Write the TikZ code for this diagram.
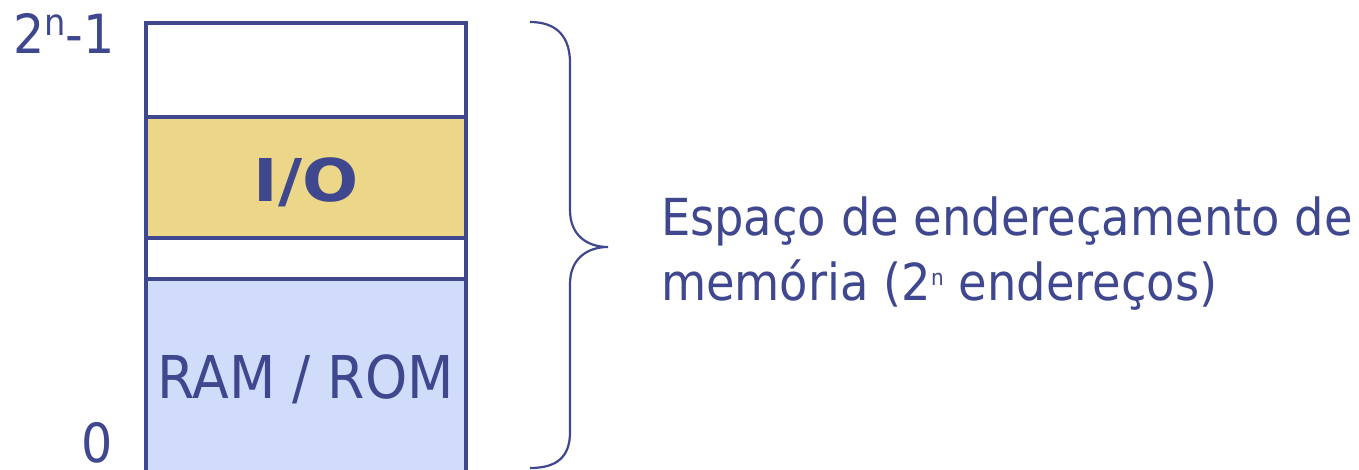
\documentclass[tikz,border=0pt]{standalone}
\usepackage{fontspec}
\setmainfont[FakeStretch=0.91]{DejaVu Sans}
\newfontfamily\iofont[FakeStretch=1.12]{DejaVu Sans}
\definecolor{ink}{HTML}{3F478E}
\definecolor{iofill}{HTML}{EBD787}
\definecolor{ramfill}{HTML}{D0DCFA}
\tikzset{
  seg/.style={draw=ink, line width=4pt, inner sep=0pt, outer sep=0pt,
              anchor=north west, minimum width=320.5pt},
  lbl/.style={text=ink, inner sep=0pt, outer sep=0pt},
  brace/.style={draw=ink, line width=2.2pt}
}
\begin{document}
\begin{tikzpicture}[x=1pt,y=-1pt]
\useasboundingbox (0,0) rectangle (1359,469);
\fill[white] (0,0) rectangle (1359,469);
% memory column
\node[seg, fill=white,   minimum height=94pt]  (top) at (145.5,23) {};
\node[seg, fill=iofill,  minimum height=120.5pt] (io)  at (145.5,117) {};
\node[seg, fill=white,   minimum height=41.3pt]  (gap) at (145.5,237.5) {};
\node[seg, fill=ramfill, minimum height=200pt] (ram) at (145.5,278.8) {};
% texts in column
\node[lbl, anchor=base] (iotext) at (306,201) {\iofont\fontsize{59}{59}\selectfont\bfseries I/O};
\node[lbl, anchor=base] (ramtext) at (305.5,398) {\fontsize{59}{59}\selectfont RAM / ROM};
% address labels
\node[lbl, anchor=base west] (hi) at (13,53) {\fontsize{54}{54}\selectfont 2\raisebox{18pt}{\fontsize{37}{37}\selectfont n}-1};
\node[lbl, anchor=base west] (lo) at (81,462) {\fontsize{54}{54}\selectfont 0};
% brace
\coordinate (bt) at (530,22);
\coordinate (bm) at (608,247);
\coordinate (bb) at (530,468);
\draw[brace] (bt) .. controls (558,22) and (570,38) .. (570,63)
  -- (570,210) .. controls (570,236) and (588,247) .. (bm)
  .. controls (588,247) and (570,258) .. (570,284)
  -- (570,432) .. controls (570,456) and (558,468) .. (bb);
% description
\node[lbl, anchor=base west] (d1) at (661,235) {\fontsize{51}{51}\selectfont Espaço de endereçamento de};
\node[lbl, anchor=base west] (d2) at (661,300) {\fontsize{51}{51}\selectfont memória (2\raisebox{15pt}{\fontsize{22}{22}\selectfont n} endereços)};
\end{tikzpicture}
\end{document}
